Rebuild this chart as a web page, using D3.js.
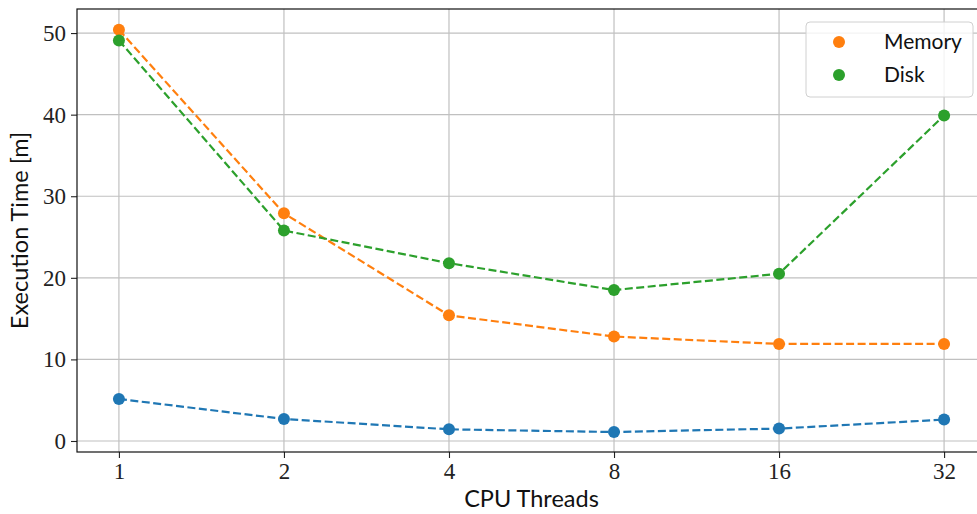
<!DOCTYPE html>
<html>
<head>
<meta charset="utf-8">
<script src="https://cdn.jsdelivr.net/npm/d3@7"></script>
<style>
  body { margin: 0; background: #fff; }
  .tick text { font-family: "Liberation Serif", serif; font-size: 23px; fill: #222; }
  .label { font-family: Lato, "Open Sans", sans-serif; font-size: 23.5px; fill: #111; }
  .legend-text { font-family: Lato, "Open Sans", sans-serif; font-size: 21px; fill: #111; }
</style>
</head>
<body>
<div id="vis"></div>
<script>
// data
var threads = [1, 2, 4, 8, 16, 32];
var baseline = [5.15, 2.7, 1.43, 1.1, 1.52, 2.62];
var memory = [50.4, 27.9, 15.4, 12.8, 11.9, 11.9];
var disk = [49.1, 25.8, 21.8, 18.5, 20.5, 39.9];
var yTicks = [0, 10, 20, 30, 40, 50];

var series = [
  { name: null, values: baseline, color: '#1f77b4' },
  { name: 'Memory', values: memory, color: '#ff7f0e' },
  { name: 'Disk', values: disk, color: '#2ca02c' }
];

var width = 977, height = 514;
var margin = { left: 77, top: 9, right: -9, bottom: 62 };
var drawWidth = width - margin.left - margin.right;
var drawHeight = height - margin.top - margin.bottom;

var svg = d3.select('#vis').append('svg')
  .attr('width', width)
  .attr('height', height);

var g = svg.append('g')
  .attr('transform', 'translate(' + margin.left + ',' + margin.top + ')');

// log2 x scale, padded like matplotlib's margins
var xScale = d3.scaleLog().base(2)
  .domain([Math.pow(2, -0.254), Math.pow(2, 5.254)])
  .range([0, drawWidth]);

var yScale = d3.scaleLinear()
  .domain([-1.35, 52.95])
  .range([drawHeight, 0]);

// grid
g.append('g').selectAll('line').data(threads).enter().append('line')
  .attr('x1', function(d) { return xScale(d); })
  .attr('x2', function(d) { return xScale(d); })
  .attr('y1', 0).attr('y2', drawHeight)
  .attr('stroke', '#c0c0c0').attr('stroke-width', 1.2);

g.append('g').selectAll('line').data(yTicks).enter().append('line')
  .attr('y1', function(d) { return yScale(d); })
  .attr('y2', function(d) { return yScale(d); })
  .attr('x1', 0).attr('x2', drawWidth)
  .attr('stroke', '#c0c0c0').attr('stroke-width', 1.2);

// axes
var xAxis = d3.axisBottom(xScale)
  .tickValues(threads)
  .tickFormat(d3.format('d'))
  .tickSize(6).tickPadding(5);
var yAxis = d3.axisLeft(yScale)
  .tickValues(yTicks)
  .tickSize(6).tickPadding(5);

var xg = g.append('g')
  .attr('transform', 'translate(0,' + drawHeight + ')')
  .call(xAxis);
var yg = g.append('g').call(yAxis);
[xg, yg].forEach(function(a) {
  a.select('.domain').remove();
  a.selectAll('.tick line').attr('stroke', '#222').attr('stroke-width', 1.1);
});

// frame
g.append('rect')
  .attr('x', 0).attr('y', 0)
  .attr('width', drawWidth).attr('height', drawHeight)
  .attr('fill', 'none').attr('stroke', '#111').attr('stroke-width', 1.2);

// lines + markers
var line = d3.line()
  .x(function(d, i) { return xScale(threads[i]); })
  .y(function(d) { return yScale(d); });

series.forEach(function(s) {
  g.append('path')
    .datum(s.values)
    .attr('fill', 'none')
    .attr('stroke', s.color)
    .attr('stroke-width', 2.2)
    .attr('stroke-dasharray', '8,3.5')
    .attr('d', line);
  g.append('g').selectAll('circle').data(s.values).enter().append('circle')
    .attr('cx', function(d, i) { return xScale(threads[i]); })
    .attr('cy', function(d) { return yScale(d); })
    .attr('r', 6)
    .attr('fill', s.color);
});

// axis titles
svg.append('text')
  .attr('class', 'label')
  .attr('x', margin.left + drawWidth / 2)
  .attr('y', 507)
  .attr('text-anchor', 'middle')
  .text('CPU Threads');

svg.append('text')
  .attr('class', 'label')
  .attr('transform', 'translate(28,' + (margin.top + drawHeight / 2) + ') rotate(-90)')
  .attr('text-anchor', 'middle')
  .text('Execution Time [m]');

// legend (the blue series has no label)
var legendItems = series.filter(function(s) { return s.name; });
var legend = svg.append('g').attr('transform', 'translate(806,22)');
legend.append('rect')
  .attr('width', 167).attr('height', 75)
  .attr('rx', 4).attr('ry', 4)
  .attr('fill', 'rgba(255,255,255,0.8)')
  .attr('stroke', '#d0d0d0').attr('stroke-width', 1);
var items = legend.selectAll('.item').data(legendItems).enter().append('g')
  .attr('transform', function(d, i) { return 'translate(0,' + (20 + i * 33) + ')'; });
items.append('circle')
  .attr('cx', 33).attr('cy', 0).attr('r', 6)
  .attr('fill', function(d) { return d.color; });
items.append('text')
  .attr('class', 'legend-text')
  .attr('x', 78).attr('y', 0)
  .attr('dy', '0.35em')
  .text(function(d) { return d.name; });
</script>
</body>
</html>
